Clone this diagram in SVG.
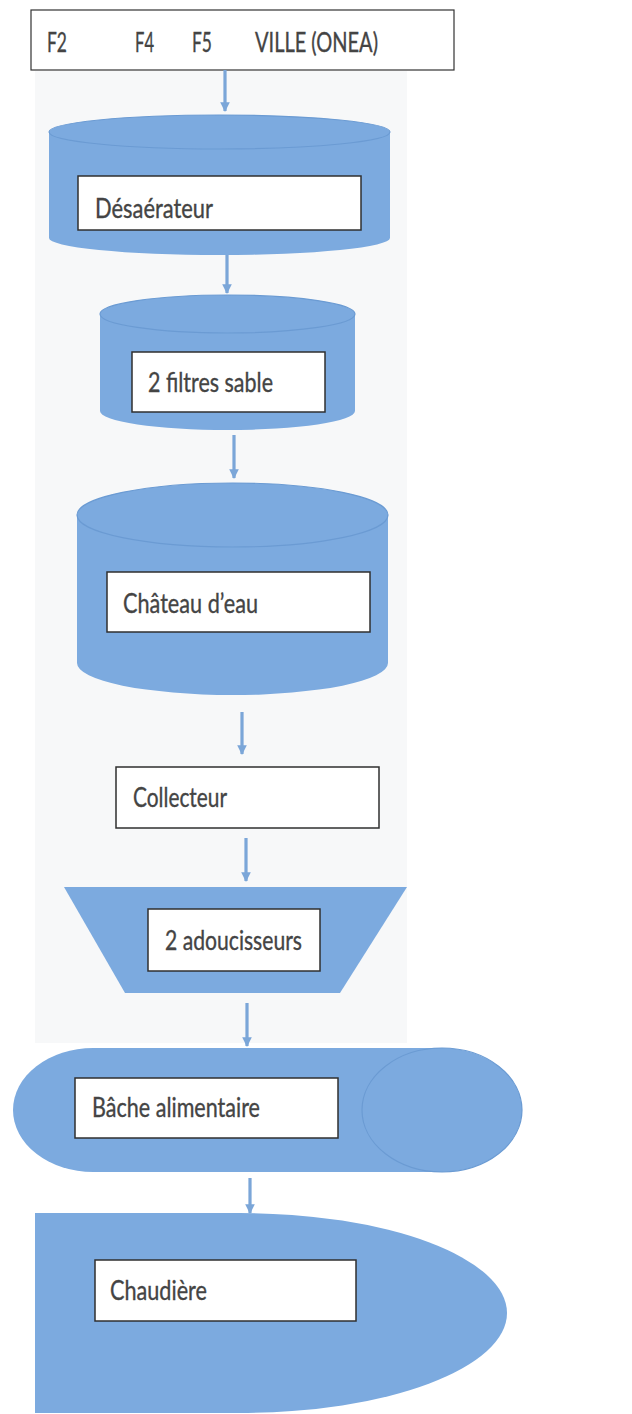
<svg xmlns="http://www.w3.org/2000/svg" width="632" height="1414" viewBox="0 0 632 1414">
<style>
.shape{fill:#7caadf;}
.rim{fill:none;stroke:#6b9bd3;stroke-width:1.2;}
.lbl{fill:#ffffff;stroke:#2f2f2f;stroke-width:1.5;}
.txt{font-family:Lato,"Liberation Sans",sans-serif;font-size:27px;fill:#444444;stroke:#444444;stroke-width:0.35;}
.conn{stroke:#7ba6d8;stroke-width:3.2;fill:none;marker-end:url(#ah);}
</style>
<defs>
<marker id="ah" viewBox="0 0 10 10" refX="9" refY="5" markerWidth="3" markerHeight="3" orient="auto">
<path d="M0,0 L10,5 L0,10 Z" fill="#7ba6d8"/>
</marker>
</defs>
<rect x="0" y="0" width="632" height="1414" fill="#ffffff"/>
<rect x="35" y="71" width="372" height="972" fill="#f7f8f9"/>

<g id="sources">
<rect x="31" y="10" width="423" height="60" fill="#ffffff" stroke="#333" stroke-width="1.2"/>
<text class="txt" x="47" y="52" textLength="20" lengthAdjust="spacingAndGlyphs">F2</text>
<text class="txt" x="135" y="52" textLength="19" lengthAdjust="spacingAndGlyphs">F4</text>
<text class="txt" x="192" y="52" textLength="20" lengthAdjust="spacingAndGlyphs">F5</text>
<text class="txt" x="255" y="52" textLength="123" lengthAdjust="spacingAndGlyphs">VILLE (ONEA)</text>
</g>

<g id="desaerateur">
<path class="shape" d="M49,132 A170.5,17 0 0,1 390,132 L390,238 A170.5,17 0 0,1 49,238 Z"/>
<ellipse class="rim" cx="219.5" cy="132" rx="170.5" ry="17"/>
<rect class="lbl" x="78" y="176" width="283" height="54"/>
<text class="txt" x="95" y="218" textLength="118" lengthAdjust="spacingAndGlyphs">Désaérateur</text>
</g>

<g id="filtres">
<path class="shape" d="M100,314 A127.5,19 0 0,1 355,314 L355,411 A127.5,19 0 0,1 100,411 Z"/>
<ellipse class="rim" cx="227.5" cy="314" rx="127.5" ry="19"/>
<rect class="lbl" x="132" y="352" width="193" height="60"/>
<text class="txt" x="148" y="392" textLength="125" lengthAdjust="spacingAndGlyphs">2 filtres sable</text>
</g>

<g id="chateau">
<path class="shape" d="M77,515 A155.5,32 0 0,1 388,515 L388,663 A155.5,32 0 0,1 77,663 Z"/>
<ellipse class="rim" cx="232.5" cy="515" rx="155.5" ry="32"/>
<rect class="lbl" x="107" y="572" width="263" height="60"/>
<text class="txt" x="123" y="613" textLength="135" lengthAdjust="spacingAndGlyphs">Château d’eau</text>
</g>

<g id="collecteur">
<rect class="lbl" x="116" y="767" width="263" height="61"/>
<text class="txt" x="133" y="807" textLength="94" lengthAdjust="spacingAndGlyphs">Collecteur</text>
</g>

<g id="adoucisseurs">
<path class="shape" d="M64,887 L407,887 L340,993 L125,993 Z"/>
<rect class="lbl" x="148" y="909" width="172" height="62"/>
<text class="txt" x="165" y="950" textLength="137" lengthAdjust="spacingAndGlyphs">2 adoucisseurs</text>
</g>

<g id="bache">
<path class="shape" d="M93,1048 L442,1048 A80,62 0 0,1 442,1172 L93,1172 A80,62 0 0,1 93,1048 Z"/>
<ellipse class="rim" cx="442" cy="1110" rx="80" ry="62" stroke="#6f9fd6"/>
<rect class="lbl" x="75" y="1078" width="263" height="60"/>
<text class="txt" x="92" y="1117" textLength="168" lengthAdjust="spacingAndGlyphs">Bâche alimentaire</text>
</g>

<g id="chaudiere">
<path class="shape" d="M35,1213 L240,1213 A267,100 0 0,1 240,1413 L35,1413 Z"/>
<rect class="lbl" x="95" y="1260" width="261" height="61"/>
<text class="txt" x="110" y="1300" textLength="97" lengthAdjust="spacingAndGlyphs">Chaudière</text>
</g>

<g id="connectors">
<line class="conn" x1="225" y1="70" x2="225" y2="111"/>
<line class="conn" x1="227" y1="255" x2="227" y2="293"/>
<line class="conn" x1="234" y1="435" x2="234" y2="478"/>
<line class="conn" x1="242" y1="712" x2="242" y2="754"/>
<line class="conn" x1="246" y1="838" x2="246" y2="881"/>
<line class="conn" x1="247" y1="1003" x2="247" y2="1046"/>
<line class="conn" x1="250" y1="1178" x2="250" y2="1213"/>
</g>
</svg>
